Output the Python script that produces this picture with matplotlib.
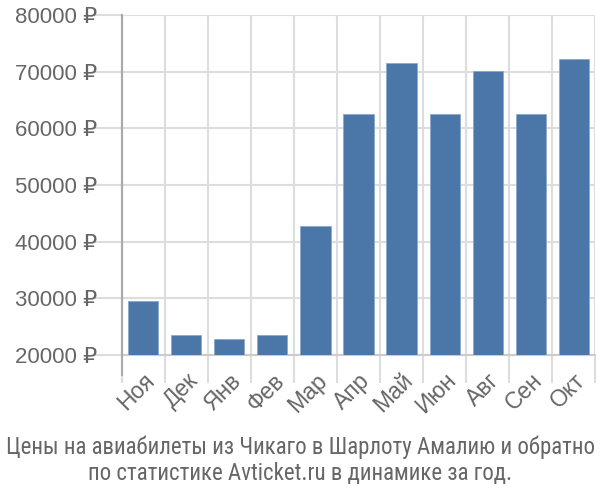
import matplotlib
matplotlib.use("Agg")
import matplotlib.pyplot as plt
import numpy as np

months = ["Ноя", "Дек", "Янв", "Фев", "Мар", "Апр", "Май", "Июн", "Авг", "Сен", "Окт"]
prices = [29500, 23500, 22800, 23500, 42700, 62500, 71500, 62500, 70200, 62500, 72300]
yticks = [20000, 30000, 40000, 50000, 60000, 70000, 80000]
title = "Цены на авиабилеты из Чикаго в Шарлоту Амалию и обратно\nпо статистике Avticket.ru в динамике за год."

plt.rcParams['font.family'] = ['Liberation Sans', 'DejaVu Sans']

fig = plt.figure(figsize=(6, 5), dpi=100)
ax = fig.add_axes([0.203, 0.29, 0.789, 0.68])

x = np.arange(len(months))
ax.bar(x, prices, width=0.7, color="#4a76a8", edgecolor="#8aa8cc", linewidth=0.6, zorder=3)

ax.set_xlim(-0.5, len(months) - 0.5)
ax.set_ylim(20000, 80000)
ax.set_yticks(yticks)
ax.set_yticklabels([f"{v} ₽" for v in yticks], fontsize=16, color="#666666")
ax.tick_params(axis="y", length=20, color="#dddddd", width=1.5, pad=-2)

# category labels at centres, gridlines at category boundaries
ax.set_xticks(x)
ax.set_xticklabels(months, rotation=45, ha="right", rotation_mode="anchor",
                   fontsize=16.5, color="#666666")
ax.tick_params(axis="x", length=0, pad=10)
ax.set_xticks(np.arange(len(months) + 1) - 0.5, minor=True)
ax.tick_params(axis="x", which="minor", length=20, color="#dddddd", width=1.5)

ax.grid(axis="y", color="#dddddd", linewidth=1.5, zorder=0)
ax.grid(axis="x", which="minor", color="#dddddd", linewidth=1.5, zorder=0)

for s in ["top", "right"]:
    ax.spines[s].set_visible(False)
ax.spines["bottom"].set_color("#cccccc")
ax.spines["bottom"].set_linewidth(1.5)
ax.spines["left"].set_color("#aaaaaa")
ax.spines["left"].set_linewidth(1.5)
# left axis line runs down past the bars like the reference
ax.plot([-0.5, -0.5], [80000, 20000 - 60000 * 20 / 340], color="#aaaaaa",
        linewidth=1.5, clip_on=False, zorder=4)

fig.text(0.5, 0.03, title, ha="center", va="bottom", fontsize=16.5,
         color="#666666", linespacing=1.15,
         family=['Liberation Sans Narrow', 'Roboto Condensed', 'Liberation Sans'])

fig.savefig("out.png", dpi=100)
